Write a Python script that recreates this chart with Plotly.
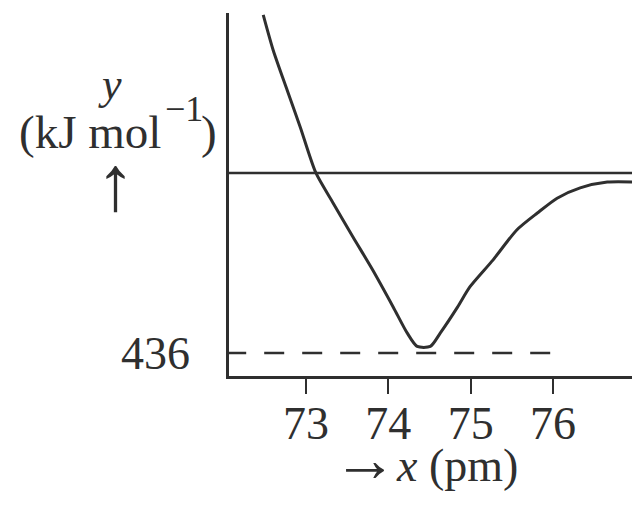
import plotly.graph_objects as go

# potential energy curve (x in pm, y in kJ/mol)
curve_x = [72.48, 72.60, 72.77, 72.93, 73.12, 73.33, 73.57, 73.81, 74.06, 74.23,
           74.35, 74.51, 74.63, 74.84, 74.99, 75.27, 75.56, 75.81, 76.05, 76.33,
           76.66, 77.02]
curve_y = [383, 298, 201, 111, 0, -73, -155, -235, -325, -388,
           -420, -420, -388, -325, -276, -211, -138, -97, -61, -36,
           -22, -22]

x_ticks = [73, 74, 75, 76]
well_depth = -436
well_label = "436"
dash_x = [72.03, 76]
x_range = [72.064, 77.057]
y_range = [-491.7, 387.5]

ink = "#2f2f2f"
serif = "Liberation Serif"

fig = go.Figure()

fig.add_trace(go.Scatter(
    x=dash_x, y=[well_depth, well_depth], mode="lines",
    line=dict(color=ink, width=2.5, dash="20px,18px"),
    hoverinfo="skip", cliponaxis=False,
))
fig.add_trace(go.Scatter(
    x=curve_x, y=curve_y, mode="lines",
    line=dict(color=ink, width=3, shape="spline", smoothing=0.7),
))
fig.add_hline(y=0, line=dict(color=ink, width=2.5))

# the page body adds an 8px offset, so the margins are trimmed by that much
fig.update_layout(
    width=640, height=505,
    margin=dict(l=221, r=8, t=5, b=137),
    paper_bgcolor="white", plot_bgcolor="white",
    showlegend=False,
    font=dict(family=serif, color=ink, size=46),
    xaxis=dict(
        range=x_range, showgrid=False, zeroline=False, automargin=False,
        showline=True, linecolor=ink, linewidth=2.5,
        ticks="outside", ticklen=15, tickwidth=2, tickcolor=ink,
        tickvals=x_ticks, tickfont=dict(size=46), ticklabelstandoff=-10,
    ),
    yaxis=dict(
        range=y_range, showgrid=False, zeroline=False, automargin=False,
        showline=True, linecolor=ink, linewidth=2.5,
        ticks="", tickvals=[well_depth], ticktext=[well_label],
        ticklabelstandoff=27, tickfont=dict(size=46),
    ),
)

ann = dict(xref="paper", yref="paper", showarrow=False, yanchor="middle")
fig.add_annotation(text="<i>y</i>", x=-0.29, y=0.804, xanchor="center",
                   font=dict(size=44), **ann)
fig.add_annotation(text="(kJ mol", x=-0.516, y=0.672, xanchor="left",
                   font=dict(size=47), **ann)
fig.add_annotation(text="−1", x=-0.16, y=0.735, xanchor="left",
                   font=dict(size=36), **ann)
fig.add_annotation(text=")", x=-0.072, y=0.672, xanchor="left",
                   font=dict(size=47), **ann)
fig.add_annotation(text="↑", x=-0.276, y=0.531, xanchor="center",
                   font=dict(size=78), **ann)
fig.add_annotation(text='<span style="font-size:64px">→</span><i>x</i> (pm)',
                   x=0.477, y=-0.229, xanchor="center", font=dict(size=46), **ann)

fig.write_html("out.html")
